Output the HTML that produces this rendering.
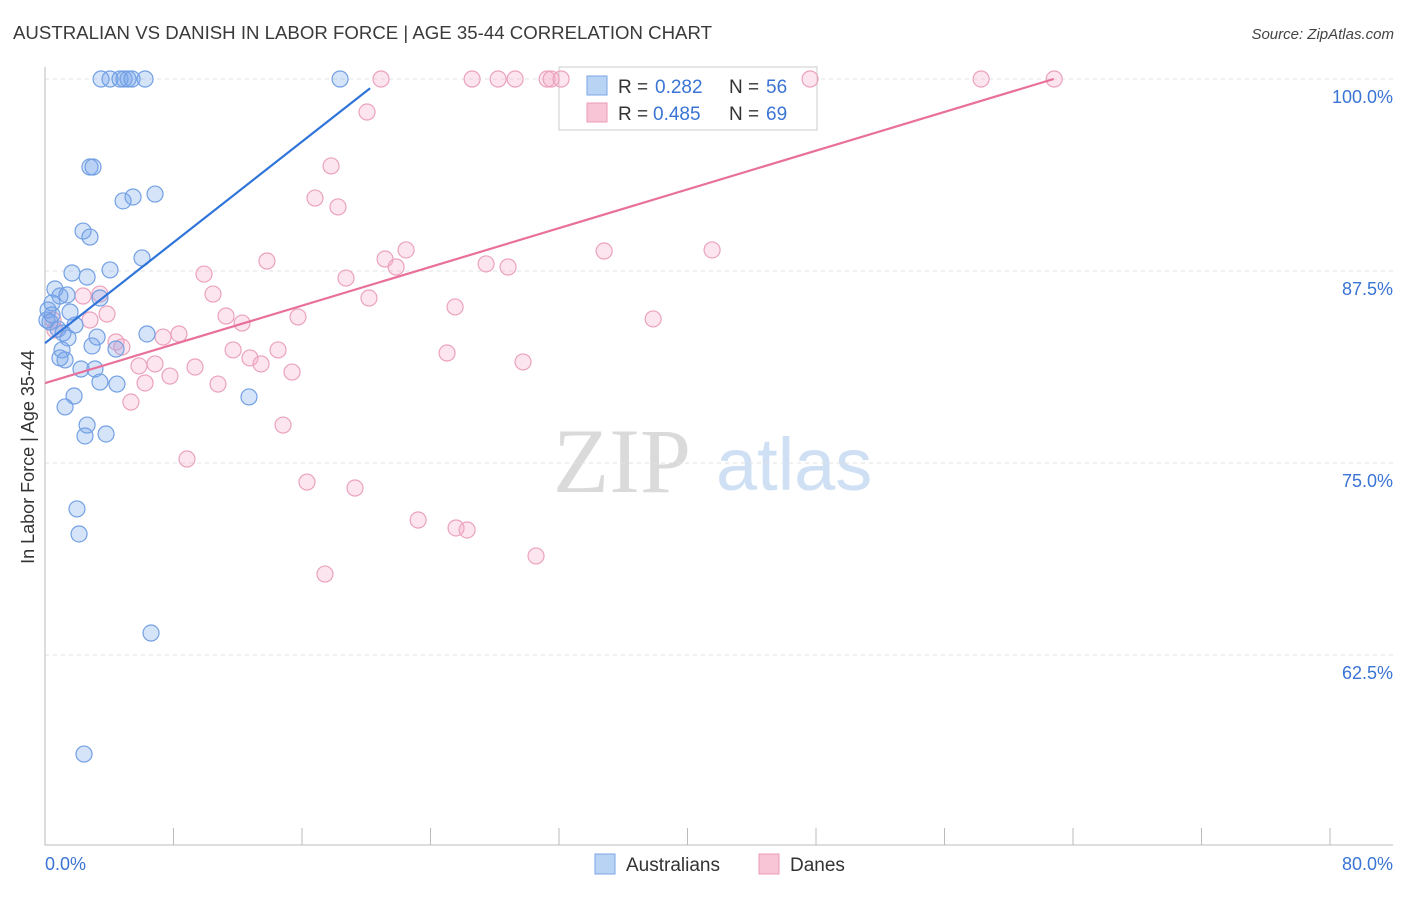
<!DOCTYPE html>
<html><head><meta charset="utf-8"><style>
body{margin:0;background:#fff;font-family:"Liberation Sans",sans-serif}
svg text{font-family:"Liberation Sans",sans-serif}
</style></head><body>
<svg id="chart" width="1406" height="892" xmlns="http://www.w3.org/2000/svg">
<text x="13" y="39" font-size="18" fill="#3a3a3a" textLength="699" lengthAdjust="spacingAndGlyphs">AUSTRALIAN VS DANISH IN LABOR FORCE | AGE 35-44 CORRELATION CHART</text>
<text x="1394" y="39" font-size="15" fill="#444" font-style="italic" text-anchor="end">Source: ZipAtlas.com</text>
<text x="553" y="492" font-size="92" fill="#dadada" style="font-family:'Liberation Serif',serif">ZIP</text>
<text x="716" y="490" font-size="74" fill="#cfe0f4">atlas</text>
<g id="grid"></g><g id="axes"></g>
<g>
<rect x="559" y="67" width="258" height="63" fill="#fff" stroke="#ccc"/>
<rect x="587" y="76" width="20" height="19" fill="#b9d3f5" stroke="#7aa6e6"/>
<rect x="587" y="103" width="20" height="19" fill="#f8c5d6" stroke="#eb9ab8"/>
<text x="618" y="93" font-size="19" fill="#333">R =</text>
<text x="655" y="93" font-size="19" fill="#3a74d4">0.282</text>
<text x="729" y="93" font-size="19" fill="#333">N =</text>
<text x="766" y="93" font-size="19" fill="#3a74d4">56</text>
<text x="618" y="120" font-size="19" fill="#333">R =</text>
<text x="653" y="120" font-size="19" fill="#3a74d4">0.485</text>
<text x="729" y="120" font-size="19" fill="#333">N =</text>
<text x="766" y="120" font-size="19" fill="#3a74d4">69</text>
</g>
<g id="marks"></g>
<text transform="translate(34,457) rotate(-90)" font-size="18" fill="#333" text-anchor="middle">In Labor Force | Age 35-44</text>
<g>
<rect x="595" y="854" width="20" height="20" fill="#b9d3f5" stroke="#7aa6e6"/>
<text x="626" y="871" font-size="19" fill="#333">Australians</text>
<rect x="759" y="854" width="20" height="20" fill="#f8c5d6" stroke="#eb9ab8"/>
<text x="790" y="871" font-size="19" fill="#333">Danes</text>
</g>
</svg>
<script>
const yTicks=[100,87.5,75,62.5];
const yTickLabels=["100.0%","87.5%","75.0%","62.5%"];
const xTickLabels=["0.0%","80.0%"];
const ausX=[3.49,4.05,4.67,4.92,5.17,5.42,6.23,18.37,2.80,2.99,4.86,5.48,6.85,2.37,2.80,4.05,6.04,1.68,2.62,0.62,0.93,1.37,3.42,0.44,0.19,1.56,1.87,0.31,0.81,1.12,1.43,3.24,6.35,2.93,4.42,1.06,0.93,1.25,2.24,3.11,3.42,4.48,1.81,1.25,12.70,2.62,2.49,3.80,1.99,2.12,6.60,2.43,0.12,0.44];
const ausY=[100,100,100,100,100,100,100,100,94.27,94.27,92.06,92.32,92.51,90.10,89.71,87.57,88.35,87.37,87.11,86.33,85.87,85.94,85.74,85.42,84.96,84.83,83.98,84.18,83.72,83.46,83.14,83.20,83.40,82.62,82.42,82.36,81.84,81.71,81.12,81.12,80.27,80.14,79.36,78.65,79.30,77.47,76.76,76.89,72.01,70.38,63.93,56.05,84.31,84.64];
const danX=[20.92,26.59,28.21,29.27,31.26,31.51,32.13,47.63,58.28,62.83,20.05,17.81,16.81,18.24,22.48,34.81,41.53,13.82,21.17,21.86,27.46,28.83,9.90,18.74,10.46,20.17,3.42,2.37,25.53,11.27,15.75,12.27,37.86,2.80,3.86,0.50,0.62,7.35,8.34,4.42,4.79,11.71,14.51,25.03,12.76,13.45,29.76,5.85,6.85,9.34,7.78,6.23,15.38,10.77,5.35,14.82,8.84,16.31,19.30,23.23,25.59,26.28,30.57,17.43];
const danY=[100,100,100,100,100,100,100,100,100,100,97.85,94.34,92.25,91.67,88.87,88.80,88.87,88.15,88.28,87.76,87.96,87.76,87.30,87.04,86.00,85.74,86.00,85.87,85.16,84.57,84.51,84.11,84.38,84.31,84.70,84.31,83.66,83.20,83.40,82.88,82.55,82.36,82.36,82.16,81.84,81.45,81.58,81.32,81.45,81.25,80.66,80.21,80.92,80.14,78.97,77.47,75.26,73.76,73.37,71.29,70.77,70.64,68.95,67.77];
const ausTrend=[0,82.8,20.24,99.4];
const danTrend=[0,80.2,62.8,100];
const NS="http://www.w3.org/2000/svg";
const X=v=>45+v*(1285/80);
const Y=v=>79+(100-v)*15.36;
function mk(parent,tag,attrs){const e=document.createElementNS(NS,tag);for(const k in attrs)e.setAttribute(k,attrs[k]);document.getElementById(parent).appendChild(e);return e;}
yTicks.forEach((t,i)=>{
 const l=mk('grid','line',{x1:45,x2:1393,y1:Y(t),y2:Y(t),stroke:'#e2e2e2','stroke-dasharray':'4,4'});
 
 
 const tx=mk('axes','text',{x:1393,y:Y(t)+24,'font-size':18,fill:'#3a74d4','text-anchor':'end'});tx.textContent=yTickLabels[i];
 
 
});
const ax=mk('axes','path',{d:'M45 67V845H1393',fill:'none',stroke:'#bbb'});


for(let i=1;i<=10;i++){const t=mk('axes','line',{x1:X(i*8),x2:X(i*8),y1:828,y2:845,stroke:'#bbb'});
 
 }
const xl0=mk('axes','text',{x:45,y:870,'font-size':18,fill:'#3a74d4'});xl0.textContent=xTickLabels[0];


const xl1=mk('axes','text',{x:1393,y:870,'font-size':18,fill:'#3a74d4','text-anchor':'end'});xl1.textContent=xTickLabels[1];


danX.forEach((x,i)=>{const c=mk('marks','circle',{cx:X(x),cy:Y(danY[i]),r:8,fill:'rgba(244,170,198,0.3)',stroke:'#eba2bd','stroke-width':1.2});
 
 });
ausX.forEach((x,i)=>{const c=mk('marks','circle',{cx:X(x),cy:Y(ausY[i]),r:8,fill:'rgba(120,165,235,0.3)',stroke:'#72a0e4','stroke-width':1.2});
 
 });
const tl1=mk('marks','line',{x1:X(danTrend[0]),y1:Y(danTrend[1]),x2:X(danTrend[2]),y2:Y(danTrend[3]),stroke:'#e8709a','stroke-width':2.2});


const tl2=mk('marks','line',{x1:X(ausTrend[0]),y1:Y(ausTrend[1]),x2:X(ausTrend[2]),y2:Y(ausTrend[3]),stroke:'#2f74d8','stroke-width':2.2});


</script>
</body></html>
